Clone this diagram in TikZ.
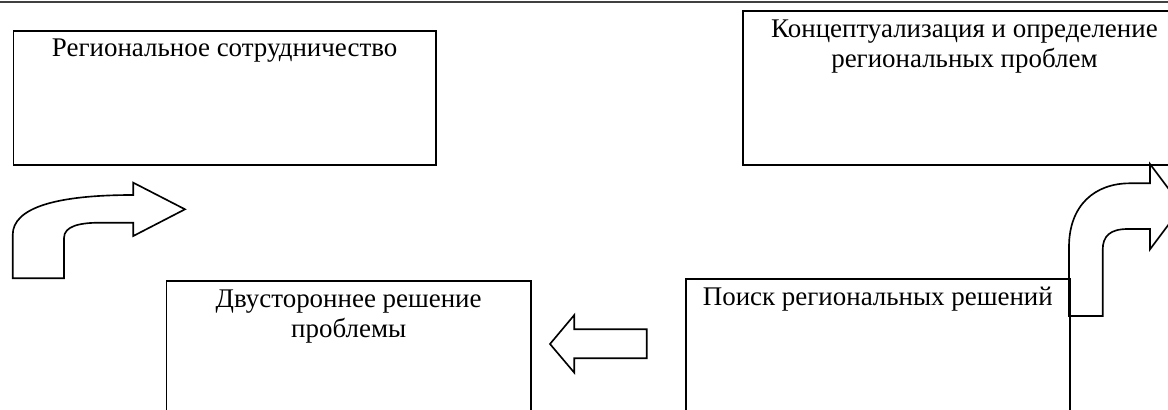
\documentclass[tikz,border=0pt]{standalone}
\usepackage{fontspec}
\setmainfont{Liberation Serif}
\usetikzlibrary{positioning}

\begin{document}
\begin{tikzpicture}[x=0.015cm, y=-0.015cm,
    panel/.style={draw, rectangle, line width=0.7pt, anchor=north west, inner sep=0pt},
    caption/.style={anchor=base, align=center, inner sep=0pt, font=\fontsize{11.5}{12.8}\selectfont},
    blockarrow/.style={draw, line width=0.7pt, line join=miter}]
    \clip (0,0) rectangle (1168,410);

    % rule at the top of the page
    \draw[line width=0.9pt, black!75] (0,1.8) -- (1168,1.8);

    % boxes
    \node[panel, minimum width=6.34cm, minimum height=2.01cm] (coop) at (12.5,30) {};
    \node[panel, minimum width=6.64cm, minimum height=2.31cm] (concept) at (742.3,10) {};
    \node[panel, minimum width=5.465cm, minimum height=2.55cm] (bilateral) at (165.7,280) {};
    \node[panel, minimum width=5.76cm, minimum height=2.58cm] (search) at (685,278) {};

    % captions (base = last line)
    \node[caption, yshift=-0.40cm] (coopText) at (coop.north) {Региональное сотрудничество};
    \node[caption, yshift=-0.86cm] (conceptText) at (concept.north) {Концептуализация и определение\\региональных проблем};
    \node[caption, yshift=-0.86cm] (bilateralText) at (bilateral.north) {Двустороннее решение\\проблемы};
    \node[caption, yshift=-0.41cm] (searchText) at (search.north) {Поиск региональных решений};

    % bent arrow, left
    \draw[blockarrow] (12.7,278.3) -- (12.7,235)
        .. controls (12.7,208) and (55,195) .. (133.3,195)
        -- (133.3,182.7) -- (185,209.3) -- (133.3,236) -- (133.3,222.7) -- (100,222.7)
        .. controls (80,222.7) and (64,226) .. (64,238)
        -- (64,278.3) -- cycle;

    % straight arrow between the lower boxes
    \draw[blockarrow] (646.7,329.3) -- (574.3,329.3) -- (574.3,315) -- (550,344)
        -- (574.3,372.7) -- (574.3,358.3) -- (646.7,358.3) -- cycle;

    % bent arrow, right
    \draw[blockarrow] (1069,316) -- (1069,247)
        .. controls (1069,205) and (1095,183.3) .. (1130,183.3)
        -- (1150,183.3) -- (1150,164) -- (1182,206.7) -- (1150,249.3) -- (1150,229) -- (1128,229)
        .. controls (1110,229) and (1102.7,236) .. (1102.7,250)
        -- (1102.7,316) -- cycle;
\end{tikzpicture}
\end{document}
